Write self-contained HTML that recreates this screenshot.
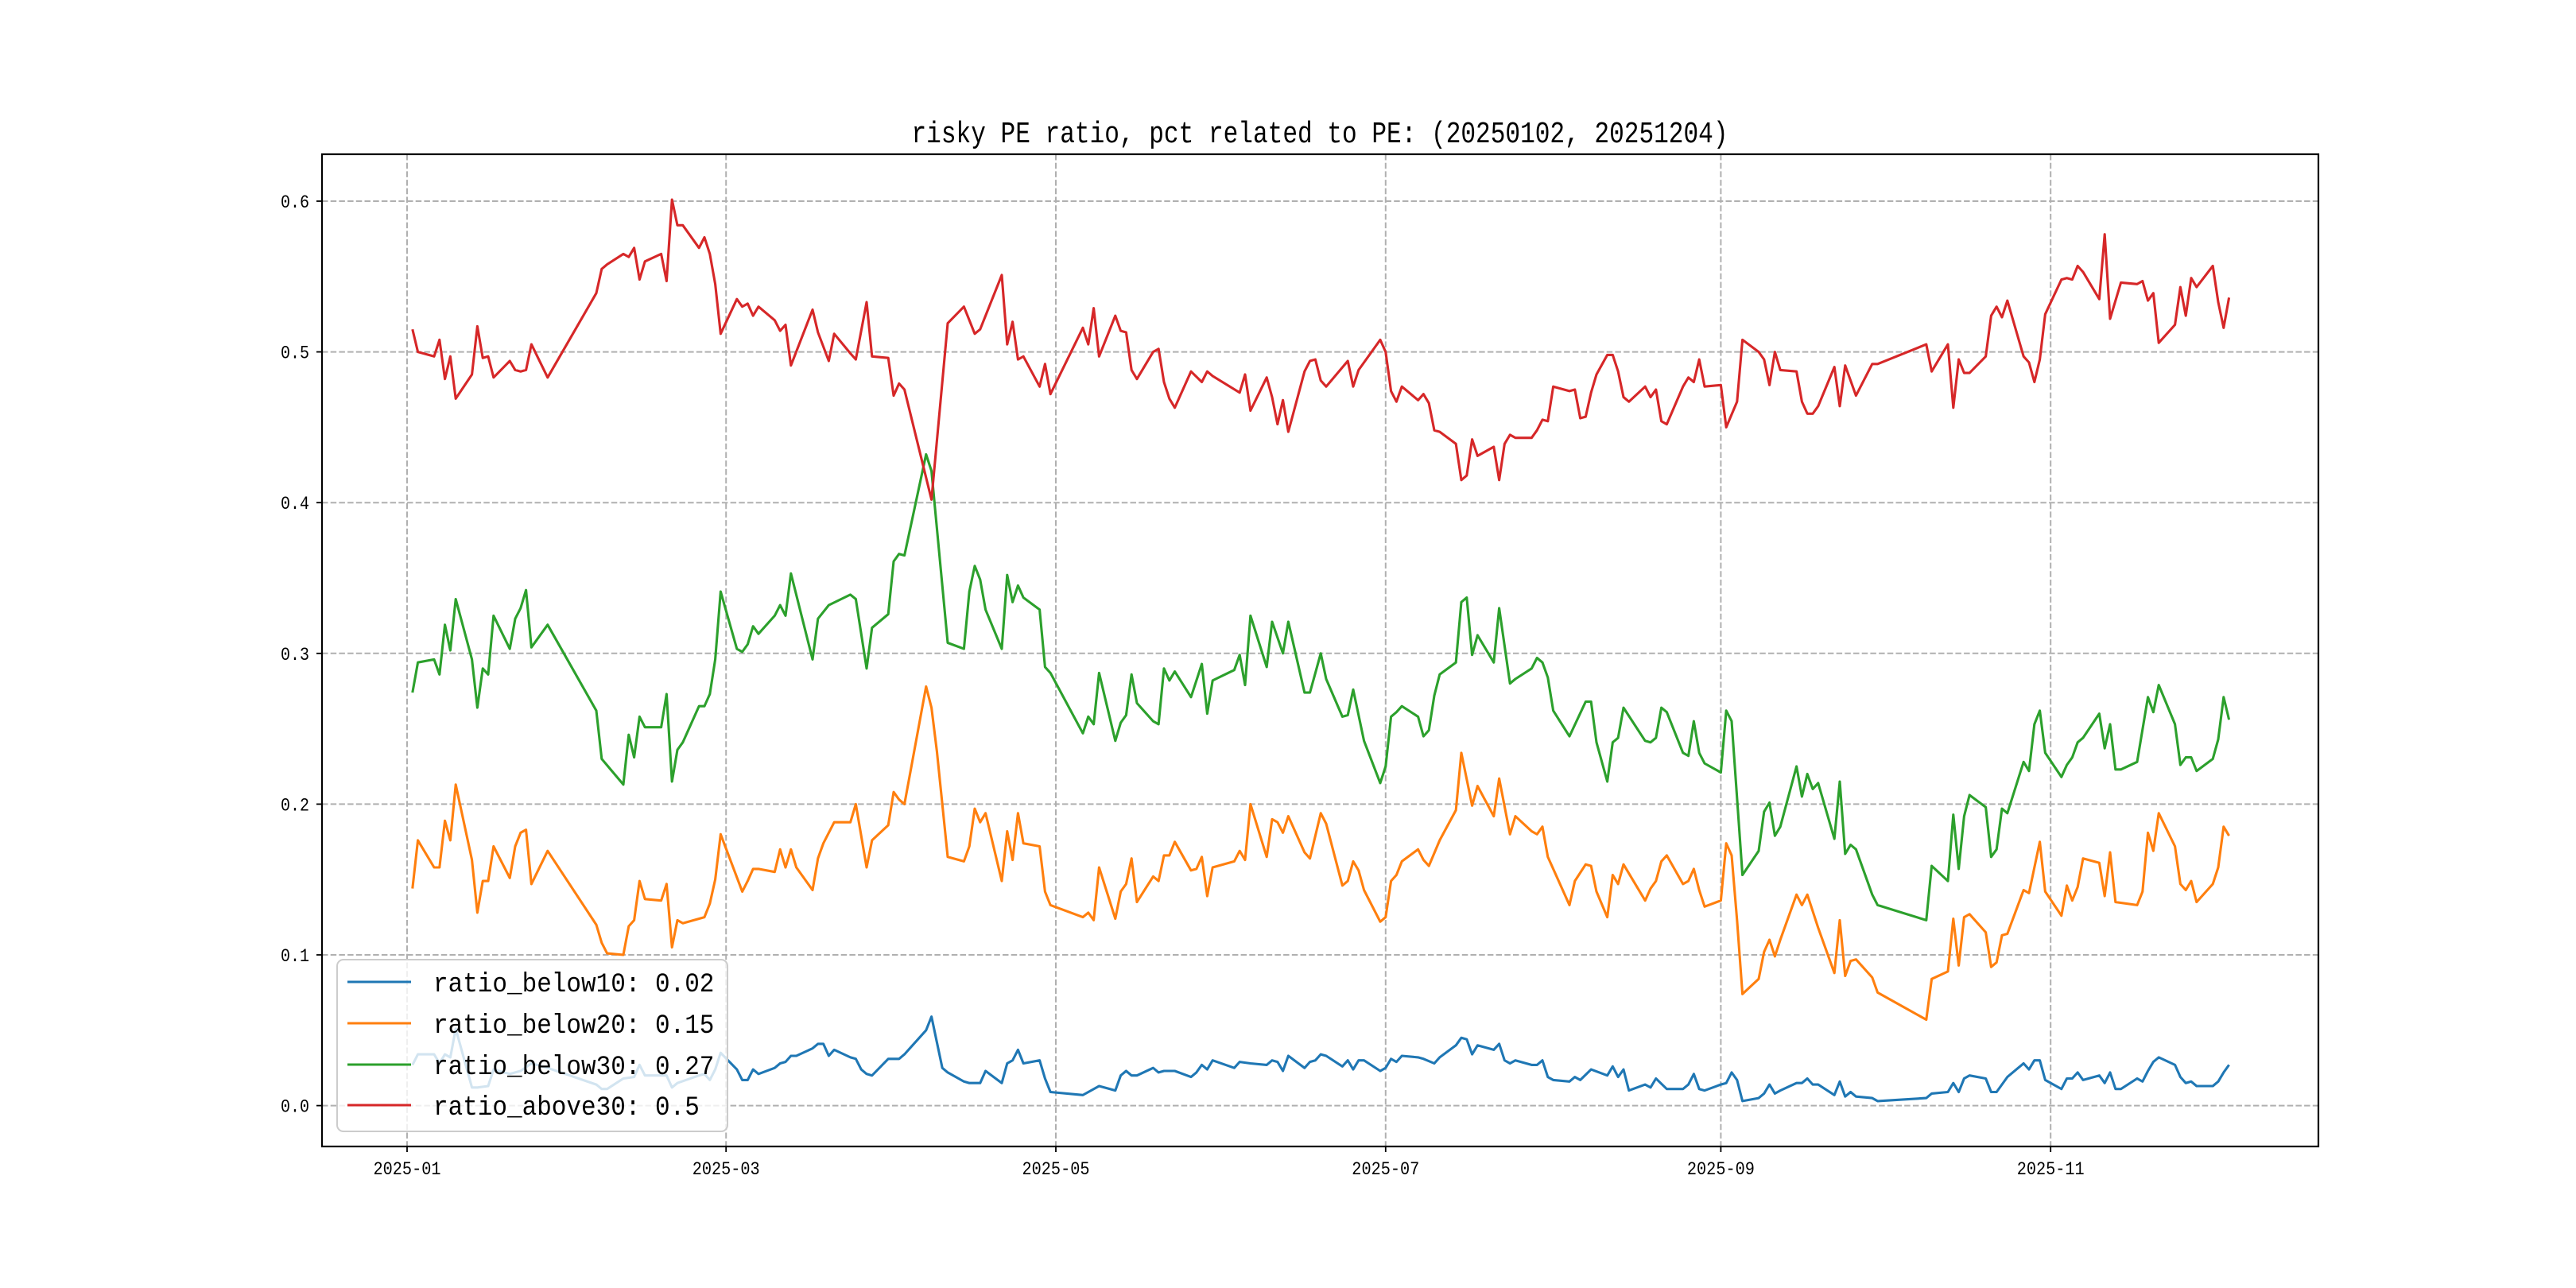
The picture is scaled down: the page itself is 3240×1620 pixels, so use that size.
<!DOCTYPE html>
<html><head><meta charset="utf-8"><title>risky PE ratio</title>
<style>
html,body{margin:0;padding:0;background:#fff;}
svg{display:block;}
text{font-family:"Liberation Mono","Noto Sans CJK SC",monospace;fill:#000;}
</style></head>
<body>
<svg id="chart" width="3240" height="1620" viewBox="0 0 3240 1620" xmlns="http://www.w3.org/2000/svg">
  <rect x="0" y="0" width="3240" height="1620" fill="#fff"/>
  <text x="1660" y="179" text-anchor="middle" font-size="38" textLength="1027" lengthAdjust="spacingAndGlyphs">risky PE ratio, pct related to PE: (20250102, 20251204)</text>
  <g id="grid"></g>
  <g id="series"></g>
  <rect x="405" y="194" width="2511" height="1248" fill="none" stroke="#000" stroke-width="2.2"/>
  <g id="ticks"></g>
  <g id="legend"></g>
</svg>
<script>
const yTicks = [0.0, 0.1, 0.2, 0.3, 0.4, 0.5, 0.6];
const yTickLabels = ["0.0","0.1","0.2","0.3","0.4","0.5","0.6"];
const xTickDates = ["01-01","03-01","05-01","07-01","09-01","11-01"];
const xTickLabels = ["2025-01","2025-03","2025-05","2025-07","2025-09","2025-11"];

const seriesNames = ["ratio_below10","ratio_below20","ratio_below30","ratio_above30"];
const seriesLabels = ["ratio_below10: 0.02","ratio_below20: 0.15","ratio_below30: 0.27","ratio_above30: 0.5"];
const seriesColors = ["#1f77b4","#ff7f0e","#2ca02c","#d62728"];

const above30Dates = ["01-02","01-03","01-06","01-07","01-08","01-09","01-10","01-13","01-14","01-15","01-16","01-17","01-20","01-21","01-22","01-23","01-24","01-27","02-05","02-06","02-07","02-10","02-11","02-12","02-13","02-14","02-17","02-18","02-19","02-20","02-21","02-24","02-25","02-26","02-27","02-28","03-03","03-04","03-05","03-06","03-07","03-10","03-11","03-12","03-13","03-17","03-18","03-20","03-21","03-24","03-25","03-27","03-28","03-31","04-01","04-02","04-03","04-08","04-11","04-14","04-16","04-17","04-21","04-22","04-23","04-24","04-25","04-28","04-29","04-30","05-06","05-07","05-08","05-09","05-12","05-13","05-14","05-15","05-16","05-19","05-20","05-21","05-22","05-23","05-26","05-28","05-29","05-30","06-04","06-05","06-06","06-09","06-10","06-11","06-12","06-13","06-16","06-17","06-18","06-19","06-20","06-24","06-25","06-26","06-27","06-30","07-01","07-02","07-03","07-04","07-07","07-08","07-09","07-10","07-11","07-14","07-15","07-16","07-17","07-18","07-21","07-22","07-23","07-24","07-25","07-28","07-29","07-30","07-31","08-01","08-04","08-05","08-06","08-07","08-08","08-09","08-11","08-12","08-13","08-14","08-15","08-18","08-19","08-20","08-21","08-22","08-25","08-26","08-27","08-28","08-29","09-01","09-02","09-04","09-05","09-08","09-09","09-10","09-11","09-12","09-15","09-16","09-17","09-18","09-19","09-22","09-23","09-24","09-26","09-29","09-30","10-09","10-10","10-13","10-14","10-15","10-16","10-17","10-20","10-21","10-22","10-23","10-24","10-27","10-28","10-29","10-30","10-31","11-03","11-04","11-05","11-06","11-07","11-10","11-11","11-12","11-14","11-17","11-18","11-19","11-20","11-21","11-24","11-25","11-26","11-27","11-28","12-01","12-02","12-03","12-04"];
const above30Values = [.515,.500,.497,.508,.482,.497,.469,.485,.517,.496,.497,.483,.494,.488,.487,.488,.505,.483,.539,.555,.558,.565,.563,.569,.548,.560,.565,.547,.601,.584,.584,.569,.576,.565,.545,.512,.535,.530,.532,.524,.530,.521,.514,.518,.491,.528,.513,.494,.512,.499,.495,.533,.497,.496,.471,.479,.475,.402,.519,.530,.512,.515,.551,.505,.520,.495,.497,.477,.492,.472,.516,.505,.529,.497,.524,.514,.513,.488,.482,.500,.502,.480,.469,.463,.487,.480,.487,.484,.473,.485,.461,.483,.470,.452,.468,.447,.487,.494,.495,.481,.477,.494,.477,.488,.493,.508,.500,.474,.467,.477,.468,.472,.466,.448,.447,.439,.415,.418,.442,.431,.437,.415,.439,.445,.443,.443,.448,.455,.454,.477,.474,.475,.456,.457,.473,.485,.498,.498,.487,.470,.467,.477,.470,.475,.454,.452,.477,.483,.480,.495,.477,.478,.450,.467,.508,.500,.495,.478,.500,.488,.487,.467,.459,.459,.464,.490,.464,.491,.471,.492,.492,.505,.487,.505,.463,.495,.486,.486,.497,.524,.530,.523,.534,.497,.493,.480,.495,.525,.548,.549,.548,.557,.553,.535,.578,.522,.546,.545,.547,.534,.539,.506,.518,.543,.524,.549,.543,.557,.533,.516,.536];

const below30Dates = ["01-02","01-03","01-06","01-07","01-08","01-09","01-10","01-13","01-14","01-15","01-16","01-17","01-20","01-21","01-22","01-23","01-24","01-27","02-05","02-06","02-10","02-11","02-12","02-13","02-14","02-17","02-18","02-19","02-20","02-21","02-24","02-25","02-26","02-27","02-28","03-03","03-04","03-05","03-06","03-07","03-10","03-11","03-12","03-13","03-17","03-18","03-20","03-24","03-25","03-27","03-28","03-31","04-01","04-02","04-03","04-07","04-08","04-11","04-14","04-15","04-16","04-17","04-18","04-21","04-22","04-23","04-24","04-25","04-28","04-29","04-30","05-06","05-07","05-08","05-09","05-12","05-13","05-14","05-15","05-16","05-19","05-20","05-21","05-22","05-23","05-26","05-28","05-29","05-30","06-03","06-04","06-05","06-06","06-09","06-10","06-12","06-13","06-16","06-17","06-19","06-20","06-23","06-24","06-25","06-27","06-30","07-01","07-02","07-03","07-04","07-07","07-08","07-09","07-10","07-11","07-14","07-15","07-16","07-17","07-18","07-21","07-22","07-24","07-25","07-28","07-29","07-30","07-31","08-01","08-04","08-07","08-08","08-09","08-11","08-12","08-13","08-14","08-18","08-19","08-20","08-21","08-22","08-25","08-26","08-27","08-28","08-29","09-01","09-02","09-03","09-05","09-08","09-09","09-10","09-11","09-12","09-15","09-16","09-17","09-18","09-19","09-22","09-23","09-24","09-25","09-26","09-29","09-30","10-09","10-10","10-13","10-14","10-15","10-16","10-17","10-20","10-21","10-22","10-23","10-24","10-27","10-28","10-29","10-30","10-31","11-03","11-04","11-05","11-06","11-07","11-10","11-11","11-12","11-13","11-14","11-17","11-19","11-20","11-21","11-24","11-25","11-26","11-27","11-28","12-01","12-02","12-03","12-04"];
const below30Values = [.274,.294,.296,.286,.319,.302,.336,.296,.264,.290,.286,.325,.303,.323,.330,.342,.304,.319,.262,.230,.213,.246,.231,.258,.251,.251,.273,.215,.236,.241,.265,.265,.273,.296,.341,.303,.301,.306,.318,.313,.325,.332,.325,.353,.296,.323,.332,.339,.336,.290,.317,.326,.361,.366,.365,.432,.421,.307,.303,.341,.358,.349,.329,.303,.352,.334,.345,.337,.329,.291,.287,.247,.258,.253,.287,.242,.254,.259,.286,.267,.255,.253,.290,.282,.288,.271,.293,.260,.282,.289,.299,.279,.325,.291,.321,.300,.321,.274,.274,.300,.283,.258,.259,.276,.242,.214,.225,.258,.261,.265,.258,.245,.249,.272,.286,.294,.334,.337,.299,.312,.294,.330,.280,.283,.290,.297,.294,.284,.262,.245,.268,.268,.241,.215,.241,.244,.264,.242,.241,.244,.264,.261,.234,.232,.255,.234,.227,.221,.262,.255,.153,.169,.195,.201,.179,.185,.225,.205,.220,.210,.214,.177,.215,.167,.173,.170,.140,.133,.123,.159,.149,.193,.157,.192,.206,.198,.165,.170,.197,.194,.228,.222,.253,.262,.234,.218,.226,.231,.241,.244,.260,.237,.253,.223,.223,.228,.271,.261,.279,.253,.226,.231,.231,.222,.230,.243,.271,.256];

const below20Dates = ["01-02","01-03","01-06","01-07","01-08","01-09","01-10","01-13","01-14","01-15","01-16","01-17","01-20","01-21","01-22","01-23","01-24","01-27","02-05","02-06","02-07","02-10","02-11","02-12","02-13","02-14","02-17","02-18","02-19","02-20","02-21","02-25","02-26","02-27","02-28","03-04","03-05","03-06","03-07","03-10","03-11","03-12","03-13","03-14","03-17","03-18","03-19","03-21","03-24","03-25","03-27","03-28","03-31","04-01","04-02","04-03","04-07","04-08","04-09","04-11","04-14","04-15","04-16","04-17","04-18","04-21","04-22","04-23","04-24","04-25","04-28","04-29","04-30","05-06","05-07","05-08","05-09","05-12","05-13","05-14","05-15","05-16","05-19","05-20","05-21","05-22","05-23","05-26","05-27","05-28","05-29","05-30","06-03","06-04","06-05","06-06","06-09","06-10","06-11","06-12","06-13","06-16","06-17","06-19","06-20","06-23","06-24","06-25","06-26","06-27","06-30","07-01","07-02","07-03","07-04","07-07","07-08","07-09","07-11","07-14","07-15","07-17","07-18","07-21","07-22","07-24","07-25","07-28","07-29","07-30","07-31","08-01","08-04","08-05","08-07","08-08","08-09","08-11","08-12","08-13","08-14","08-18","08-19","08-20","08-21","08-22","08-25","08-26","08-27","08-28","08-29","09-01","09-02","09-03","09-04","09-05","09-08","09-09","09-10","09-11","09-12","09-15","09-16","09-17","09-19","09-22","09-23","09-24","09-25","09-26","09-29","09-30","10-09","10-10","10-13","10-14","10-15","10-16","10-17","10-20","10-21","10-22","10-23","10-24","10-27","10-28","10-30","10-31","11-03","11-04","11-05","11-06","11-07","11-10","11-11","11-12","11-13","11-17","11-18","11-19","11-20","11-21","11-24","11-25","11-26","11-27","11-28","12-01","12-02","12-03","12-04"];
const below20Values = [.144,.176,.158,.158,.189,.176,.213,.163,.128,.149,.149,.172,.151,.172,.181,.183,.147,.169,.120,.108,.101,.100,.119,.123,.149,.137,.136,.147,.105,.123,.121,.125,.134,.150,.180,.142,.149,.157,.157,.155,.170,.158,.170,.158,.143,.164,.174,.188,.188,.200,.158,.176,.186,.208,.203,.200,.278,.264,.235,.165,.162,.172,.197,.188,.194,.149,.182,.163,.194,.174,.172,.142,.133,.125,.128,.123,.158,.124,.142,.147,.164,.135,.152,.149,.166,.166,.175,.156,.157,.165,.139,.158,.162,.169,.163,.200,.165,.190,.188,.181,.192,.168,.164,.194,.187,.146,.149,.162,.156,.143,.122,.125,.149,.153,.162,.170,.163,.159,.176,.196,.234,.199,.212,.192,.217,.180,.192,.182,.180,.185,.165,.157,.133,.149,.160,.159,.142,.125,.153,.147,.160,.136,.144,.149,.162,.166,.147,.149,.157,.143,.132,.136,.174,.166,.123,.074,.084,.102,.110,.099,.110,.140,.133,.140,.118,.088,.123,.086,.096,.097,.085,.075,.057,.084,.089,.124,.093,.125,.127,.115,.092,.095,.113,.114,.143,.141,.175,.142,.126,.146,.136,.145,.164,.161,.139,.168,.135,.133,.142,.181,.169,.194,.172,.147,.143,.149,.135,.147,.158,.185,.179];

const below10Dates = ["01-02","01-03","01-06","01-07","01-08","01-09","01-10","01-13","01-14","01-16","01-17","01-20","01-22","01-24","01-27","02-05","02-06","02-07","02-10","02-12","02-13","02-14","02-18","02-19","02-20","02-24","02-25","02-26","02-27","02-28","03-03","03-04","03-05","03-06","03-07","03-10","03-11","03-12","03-13","03-14","03-17","03-18","03-19","03-20","03-21","03-24","03-25","03-26","03-27","03-28","03-31","04-02","04-03","04-07","04-08","04-09","04-10","04-11","04-14","04-15","04-17","04-18","04-21","04-22","04-23","04-24","04-25","04-28","04-29","04-30","05-06","05-09","05-12","05-13","05-14","05-15","05-16","05-19","05-20","05-21","05-23","05-26","05-27","05-28","05-29","05-30","06-03","06-04","06-06","06-09","06-10","06-11","06-12","06-13","06-16","06-17","06-18","06-19","06-20","06-23","06-24","06-25","06-26","06-27","06-30","07-01","07-02","07-03","07-04","07-07","07-08","07-10","07-11","07-14","07-15","07-16","07-17","07-18","07-21","07-22","07-23","07-24","07-25","07-28","07-29","07-30","07-31","08-01","08-04","08-05","08-06","08-08","08-11","08-12","08-13","08-14","08-15","08-18","08-19","08-20","08-22","08-25","08-26","08-27","08-28","08-29","09-01","09-02","09-03","09-04","09-05","09-08","09-09","09-10","09-11","09-12","09-15","09-16","09-17","09-18","09-19","09-22","09-23","09-24","09-25","09-26","09-29","09-30","10-09","10-10","10-13","10-14","10-15","10-16","10-17","10-20","10-21","10-22","10-24","10-27","10-28","10-29","10-30","10-31","11-03","11-04","11-05","11-06","11-07","11-10","11-11","11-12","11-13","11-14","11-17","11-18","11-19","11-20","11-21","11-24","11-25","11-26","11-27","11-28","12-01","12-02","12-03","12-04"];
const below10Values = [.027,.034,.034,.028,.034,.032,.051,.012,.012,.013,.024,.021,.023,.028,.025,.014,.011,.011,.018,.019,.027,.020,.020,.012,.015,.020,.021,.017,.024,.035,.024,.017,.017,.024,.021,.025,.028,.029,.033,.033,.038,.041,.041,.033,.037,.032,.031,.024,.021,.020,.031,.031,.034,.050,.059,.042,.025,.022,.016,.015,.015,.023,.015,.028,.030,.037,.028,.030,.018,.009,.007,.013,.010,.020,.023,.020,.020,.025,.022,.023,.023,.019,.022,.027,.024,.030,.025,.029,.028,.027,.030,.029,.023,.033,.025,.029,.030,.034,.033,.026,.030,.024,.030,.030,.023,.025,.031,.029,.033,.032,.031,.028,.032,.040,.045,.044,.034,.040,.037,.041,.030,.028,.030,.027,.027,.030,.019,.017,.016,.019,.017,.024,.020,.026,.019,.024,.010,.014,.012,.018,.011,.011,.014,.021,.011,.010,.014,.015,.022,.017,.003,.005,.008,.014,.008,.010,.015,.015,.018,.014,.014,.007,.016,.006,.009,.006,.005,.003,.005,.008,.009,.015,.009,.018,.020,.018,.009,.009,.019,.028,.024,.030,.030,.017,.011,.018,.018,.022,.017,.020,.015,.022,.011,.011,.018,.016,.023,.029,.032,.027,.019,.015,.016,.013,.013,.016,.022,.027];

const seriesDates = [below10Dates, below20Dates, below30Dates, above30Dates];
const seriesValues = [below10Values, below20Values, below30Values, above30Values];

const PLOT = {left:405, right:2916, top:194, bottom:1442};
const X0 = 512, PX_PER_DAY = 6.8;
const Y0 = 1390.6, PX_PER_UNIT = 1896;
const t0 = Date.UTC(2025,0,1);
function dayOf(s){ const p = s.split("-"); return (Date.UTC(2025, +p[0]-1, +p[1]) - t0)/86400000; }
function xScale(s){ return X0 + PX_PER_DAY*dayOf(s); }
function yScale(v){ return Y0 - PX_PER_UNIT*v; }

const NS = "http://www.w3.org/2000/svg";
function mk(tag, attrs, parent){ const e = document.createElementNS(NS, tag); for (const k in attrs) e.setAttribute(k, attrs[k]); parent.appendChild(e); return e; }

const grid = document.getElementById("grid");
const ticks = document.getElementById("ticks");
yTicks.forEach((v,i)=>{
  const y = yScale(v);
  const g = mk("line",{x1:PLOT.left,x2:PLOT.right,y1:y,y2:y,stroke:"#b0b0b0","stroke-width":2,"stroke-dasharray":"7.5,3.2"},grid);
  
  
  const t = mk("line",{x1:PLOT.left-7,x2:PLOT.left,y1:y,y2:y,stroke:"#000","stroke-width":1.8},ticks);
  
  
  const lb = mk("text",{x:PLOT.left-16,y:y+8,"text-anchor":"end","font-size":23,textLength:36,lengthAdjust:"spacingAndGlyphs"},ticks);
  lb.textContent = yTickLabels[i];
  
  
});
xTickDates.forEach((d,i)=>{
  const x = xScale(d);
  const g = mk("line",{x1:x,x2:x,y1:PLOT.top,y2:PLOT.bottom,stroke:"#b0b0b0","stroke-width":2,"stroke-dasharray":"7.5,3.2"},grid);
  
  
  const t = mk("line",{x1:x,x2:x,y1:PLOT.bottom,y2:PLOT.bottom+7,stroke:"#000","stroke-width":1.8},ticks);
  
  
  const lb = mk("text",{x:x,y:1477,"text-anchor":"middle","font-size":23,textLength:85,lengthAdjust:"spacingAndGlyphs"},ticks);
  lb.textContent = xTickLabels[i];
  
  
});

const sg = document.getElementById("series");
seriesNames.forEach((n,i)=>{
  const pts = seriesDates[i].map((d,j)=> xScale(d).toFixed(1)+","+yScale(seriesValues[i][j]).toFixed(1)).join(" ");
  const pl = mk("polyline",{points:pts,fill:"none",stroke:seriesColors[i],"stroke-width":3.1,"stroke-linejoin":"round"},sg);
  
  
});

const lg = document.getElementById("legend");
const box = mk("rect",{x:424,y:1207,width:491,height:216,rx:8,ry:8,fill:"#fff","fill-opacity":0.8,stroke:"#cccccc","stroke-width":2},lg);


const entryY = [1235, 1287, 1339, 1390];
seriesLabels.forEach((s,i)=>{
  const y = entryY[i];
  const ln = mk("line",{x1:437,x2:517,y1:y,y2:y,stroke:seriesColors[i],"stroke-width":3.1},lg);
  
  
  const tx = mk("text",{x:545,y:y+12,"font-size":34,textLength:s.length*18.6,lengthAdjust:"spacingAndGlyphs"},lg);
  tx.textContent = s;
  
  
});
</script>
</body></html>
